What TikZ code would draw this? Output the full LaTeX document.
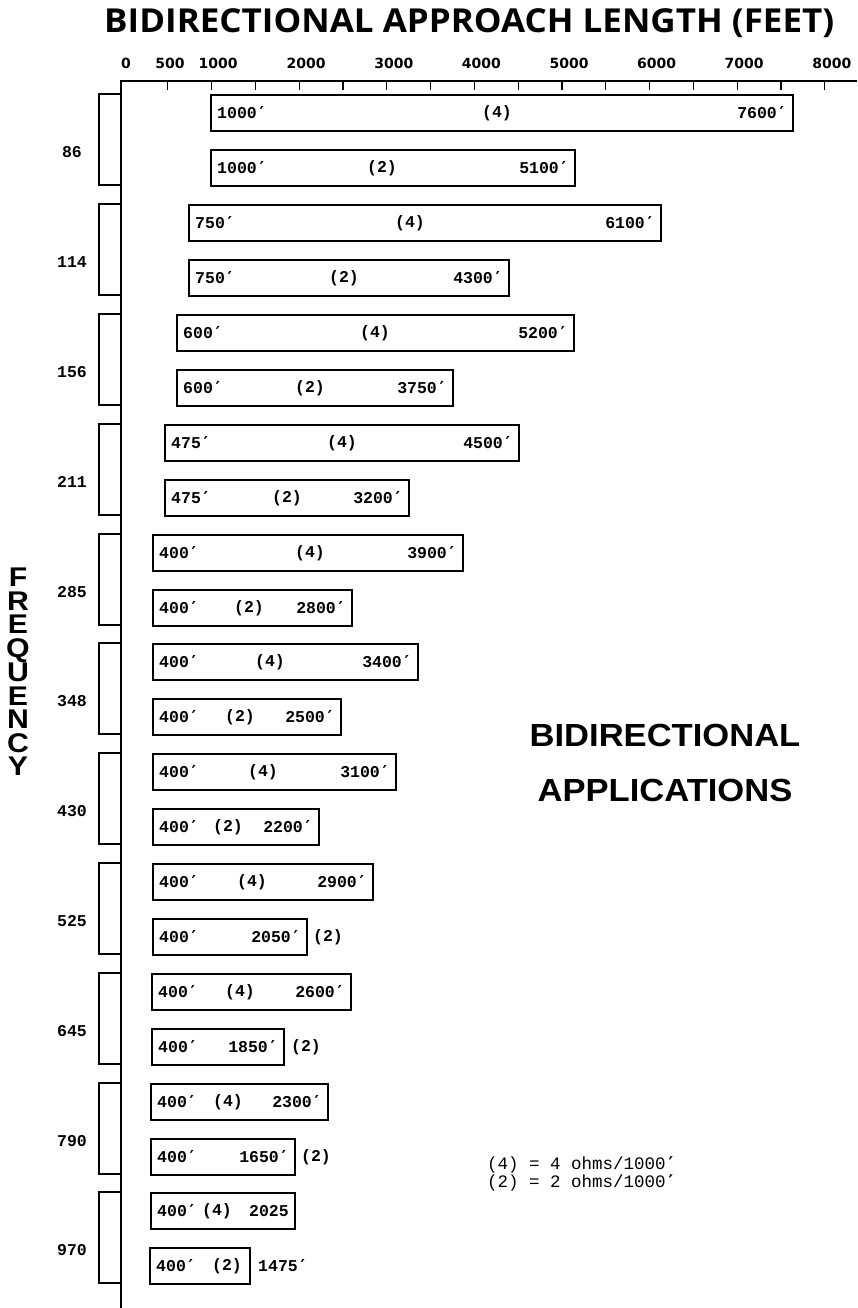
\documentclass[tikz,border=0pt]{standalone}
\usepackage{fontspec}
\setmainfont{Liberation Sans}
\newfontfamily\monof{Liberation Mono}
\newfontfamily\primef{DejaVu Sans Mono}
\newfontfamily\titlef{Open Sans}
\newfontfamily\numf{DejaVu Sans}
\newfontfamily\helvf{Liberation Sans}
\newcommand\pr{{\primef\bfseries ′}}
\tikzset{
  bx/.style={draw=black,line width=1.3pt},
  axisln/.style={draw=black,line width=1.3pt},
  lbl/.style={font=\monof\bfseries\fontsize{16.5}{18}\selectfont,inner sep=0pt},
  freqlbl/.style={font=\monof\bfseries\fontsize{16.5}{18}\selectfont,inner sep=0pt},
  ticklbl/.style={font=\numf\bfseries\fontsize{14}{16}\selectfont,inner sep=0pt},
  vword/.style={font=\helvf\bfseries\fontsize{27}{23.5}\selectfont,inner sep=0pt,align=center,xscale=1.12},
  bigtxt/.style={font=\helvf\bfseries\fontsize{32}{55}\selectfont,inner sep=0pt,align=center,xscale=1.08},
  legend/.style={font=\monof\fontsize{17.5}{14.5}\selectfont,inner sep=0pt,align=left,anchor=north west},
}
% #1 name, #2 top, #3 x1, #4 x2, #5 left text, #6 right text
\newcommand\mkbar[6]{%
  \draw[bx] (#3,#2) rectangle (#4,#2+36);
  \node[lbl,anchor=west] (#1l) at (#3+6,#2+18) {#5};
  \node[lbl,anchor=east] (#1r) at (#4-6,#2+18) {#6};
}
\newcommand\mkgroup[3]{% #1 name, #2 top, #3 freq
  \draw[bx] (121,#2-1) -- (99,#2-1) -- (99,#2+90) -- (121,#2+90);
  \node[freqlbl] (f#1) at (72,#2+57) {#3};
}
\begin{document}
\begin{tikzpicture}[x=1pt,y=-1pt]
\useasboundingbox (0,0) rectangle (857,1308);
% title
\node[font=\titlef\bfseries\fontsize{33}{35}\selectfont,inner sep=0pt,anchor=base west,xscale=1.06] (title) at (104,33) {BIDIRECTIONAL APPROACH LENGTH (FEET)};
% axes
\coordinate (corner) at (121,81);
\coordinate (xend) at (857,81);
\coordinate (yend) at (121,1308);
\draw[axisln] (xend) -- (corner) -- (yend);
\foreach \k in {1,...,16}{
  \draw[axisln] (124+43.8*\k,81) -- (124+43.8*\k,90);
}
\node[ticklbl] (t0) at (126,63) {0};
\node[ticklbl] (t500) at (170,63) {500};
\node[ticklbl] (t1000) at (218,63) {1000};
\foreach \v/\k in {2000/4,3000/6,4000/8,5000/10,6000/12,7000/14,8000/16}{
  \node[ticklbl] (t\v) at (124+43.8*\k+7,63) {\v};
}
% groups
\mkgroup{86}{95}{86}
\mkgroup{114}{205}{114}
\mkgroup{156}{315}{156}
\mkgroup{211}{425}{211}
\mkgroup{285}{535}{285}
\mkgroup{348}{644}{348}
\mkgroup{430}{754}{430}
\mkgroup{525}{864}{525}
\mkgroup{645}{974}{645}
\mkgroup{790}{1084}{790}
\mkgroup{970}{1193}{970}
% bars
\mkbar{a86}{95}{211}{793}{1000\pr}{7600\pr}
\node[lbl] (m86a) at (497,113) {(4)};
\mkbar{b86}{150}{211}{575}{1000\pr}{5100\pr}
\node[lbl] (m86b) at (382,168) {(2)};
\mkbar{a114}{205}{189}{661}{750\pr}{6100\pr}
\node[lbl] (m114a) at (410,223) {(4)};
\mkbar{b114}{260}{189}{509}{750\pr}{4300\pr}
\node[lbl] (m114b) at (344,278) {(2)};
\mkbar{a156}{315}{177}{574}{600\pr}{5200\pr}
\node[lbl] (m156a) at (375,333) {(4)};
\mkbar{b156}{370}{177}{453}{600\pr}{3750\pr}
\node[lbl] (m156b) at (310,388) {(2)};
\mkbar{a211}{425}{165}{519}{475\pr}{4500\pr}
\node[lbl] (m211a) at (342,443) {(4)};
\mkbar{b211}{480}{165}{409}{475\pr}{3200\pr}
\node[lbl] (m211b) at (287,498) {(2)};
\mkbar{a285}{535}{153}{463}{400\pr}{3900\pr}
\node[lbl] (m285a) at (310,553) {(4)};
\mkbar{b285}{590}{153}{352}{400\pr}{2800\pr}
\node[lbl] (m285b) at (249,608) {(2)};
\mkbar{a348}{644}{153}{418}{400\pr}{3400\pr}
\node[lbl] (m348a) at (270,662) {(4)};
\mkbar{b348}{699}{153}{341}{400\pr}{2500\pr}
\node[lbl] (m348b) at (240,717) {(2)};
\mkbar{a430}{754}{153}{396}{400\pr}{3100\pr}
\node[lbl] (m430a) at (263,772) {(4)};
\mkbar{b430}{809}{153}{319}{400\pr}{2200\pr}
\node[lbl] (m430b) at (228,827) {(2)};
\mkbar{a525}{864}{153}{373}{400\pr}{2900\pr}
\node[lbl] (m525a) at (252,882) {(4)};
\mkbar{b525}{919}{153}{307}{400\pr}{2050\pr}
\node[lbl] (m525b) at (328,937) {(2)};
\mkbar{a645}{974}{152}{351}{400\pr}{2600\pr}
\node[lbl] (m645a) at (240,992) {(4)};
\mkbar{b645}{1029}{152}{284}{400\pr}{1850\pr}
\node[lbl] (m645b) at (306,1047) {(2)};
\mkbar{a790}{1084}{151}{328}{400\pr}{2300\pr}
\node[lbl] (m790a) at (228,1102) {(4)};
\mkbar{b790}{1139}{151}{295}{400\pr}{1650\pr}
\node[lbl] (m790b) at (316,1157) {(2)};
\mkbar{a970}{1193}{151}{295}{400\pr}{2025}
\node[lbl] (m970a) at (217,1211) {(4)};
\mkbar{b970}{1248}{150}{250}{400\pr}{}
\node[lbl] (m970b) at (227,1266) {(2)};
\node[lbl] (o970b) at (283,1266) {1475\pr};
% vertical FREQUENCY
\node[vword] (freq) at (18,672) {F\\R\\E\\Q\\U\\E\\N\\C\\Y};
% big label
\node[bigtxt] (bid) at (665,763) {BIDIRECTIONAL\\APPLICATIONS};
% legend
\node[legend] (leg) at (487,1157) {(4) = 4 ohms/1000\pr\\(2) = 2 ohms/1000\pr};
\end{tikzpicture}
\end{document}
